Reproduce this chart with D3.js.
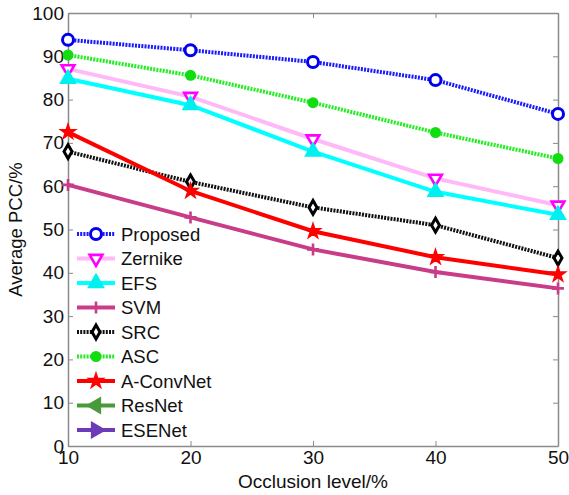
<!DOCTYPE html>
<html>
<head>
<meta charset="utf-8">
<script src="https://cdn.jsdelivr.net/npm/d3@7"></script>
<style>
  body { margin: 0; background: #fff; }
  text { font-family: Arial, "Liberation Sans", sans-serif; }
</style>
</head>
<body>
<div id="chart"></div>
<script>
// data
const levels = [10, 20, 30, 40, 50];
const proposed = [93.8, 91.4, 88.7, 84.5, 76.7];
const zernike = [87.1, 80.7, 70.9, 61.8, 55.6];
const efs = [84.8, 78.7, 68.0, 58.7, 53.4];
const svm = [60.3, 52.8, 45.4, 40.2, 36.4];
const src = [68.0, 61.0, 55.1, 51.0, 43.4];
const asc = [90.3, 85.6, 79.3, 72.4, 66.4];
const aconv = [72.5, 58.9, 49.6, 43.6, 39.6];
const resnet = [];
const esenet = [];
const yTicks = [0, 10, 20, 30, 40, 50, 60, 70, 80, 90, 100];

const series = [
  { name: "Proposed", values: proposed, color: "#1a1aff", dash: "2,1.2", marker: "circle", mcolor: "#0000ee", fill: false },
  { name: "Zernike", values: zernike, color: "#ffb8f8", dash: null, marker: "tridown", mcolor: "#ff00ff", fill: false },
  { name: "EFS", values: efs, color: "#00ffff", dash: null, marker: "triup", mcolor: "#00f0f0", fill: true },
  { name: "SVM", values: svm, color: "#c83c88", dash: null, marker: "plus", mcolor: "#c83c88", fill: false },
  { name: "SRC", values: src, color: "#111", dash: "2,1.2", marker: "diamond", mcolor: "#000", fill: false },
  { name: "ASC", values: asc, color: "#22ee22", dash: "2,1.2", marker: "dot", mcolor: "#11dd11", fill: true },
  { name: "A-ConvNet", values: aconv, color: "#ff0000", dash: null, marker: "star", mcolor: "#ff0000", fill: true },
  { name: "ResNet", values: resnet, color: "#4a9a3c", dash: null, marker: "trileft", mcolor: "#4a9a3c", fill: true },
  { name: "ESENet", values: esenet, color: "#6a3cb8", dash: null, marker: "triright", mcolor: "#6a3cb8", fill: true }
];

const margin = { top: 13, right: 11, bottom: 49, left: 68 };
const width = 569 - margin.left - margin.right;
const height = 495 - margin.top - margin.bottom;

const svg = d3.select("#chart")
  .append("svg")
  .attr("width", 569)
  .attr("height", 495)
  .append("g")
  .attr("transform", "translate(" + margin.left + "," + margin.top + ")");

const x = d3.scaleLinear().domain([10, 50]).range([0, width]);
const y = d3.scaleLinear().domain([0, 100]).range([height, 0]);

// axes with inward ticks on all four sides
const axisColor = "#8a8a8a";
function styleAxis(g, labels) {
  g.select(".domain").attr("stroke", axisColor).attr("stroke-width", 1.5);
  g.selectAll(".tick line").attr("stroke", axisColor);
  g.selectAll(".tick text")
    .attr("fill", "#111")
    .style("font-size", "19px")
    .style("display", labels ? null : "none");
}

svg.append("g")
  .attr("transform", "translate(0," + height + ")")
  .call(d3.axisBottom(x).tickValues(levels).tickSizeInner(-5).tickSizeOuter(0).tickPadding(5))
  .call(g => styleAxis(g, true));

svg.append("g")
  .call(d3.axisTop(x).tickValues(levels).tickSizeInner(-5).tickSizeOuter(0))
  .call(g => styleAxis(g, false));

svg.append("g")
  .call(d3.axisLeft(y).tickValues(yTicks).tickSizeInner(-5).tickSizeOuter(0).tickPadding(4))
  .call(g => styleAxis(g, true));

svg.append("g")
  .attr("transform", "translate(" + width + ",0)")
  .call(d3.axisRight(y).tickValues(yTicks).tickSizeInner(-5).tickSizeOuter(0))
  .call(g => styleAxis(g, false));

// axis titles
svg.append("text")
  .attr("x", width / 2)
  .attr("y", height + 42)
  .attr("text-anchor", "middle")
  .attr("fill", "#111")
  .style("font-size", "19px")
  .text("Occlusion level/%");

svg.append("text")
  .attr("transform", "rotate(-90)")
  .attr("x", -height / 2)
  .attr("y", -46)
  .attr("text-anchor", "middle")
  .attr("fill", "#111")
  .style("font-size", "18.5px")
  .text("Average PCC/%");

// marker drawing
function drawMarker(g, s, cx, cy) {
  const m = g.append("g").attr("transform", "translate(" + cx + "," + cy + ")");
  const sw = 2.6;
  if (s.marker === "circle") {
    m.append("circle").attr("r", 5.5).attr("fill", "#fff").attr("stroke", s.mcolor).attr("stroke-width", 3);
  } else if (s.marker === "dot") {
    m.append("circle").attr("r", 5.5).attr("fill", s.mcolor);
  } else if (s.marker === "tridown") {
    m.append("path").attr("d", d3.symbol(d3.symbolTriangle, 70)()).attr("transform", "rotate(180)")
      .attr("fill", "#fff").attr("stroke", s.mcolor).attr("stroke-width", sw);
  } else if (s.marker === "triup") {
    m.append("path").attr("d", d3.symbol(d3.symbolTriangle, 100)())
      .attr("fill", s.mcolor).attr("stroke", s.mcolor).attr("stroke-width", 1.5);
  } else if (s.marker === "trileft" || s.marker === "triright") {
    m.append("path").attr("d", d3.symbol(d3.symbolTriangle, 100)())
      .attr("transform", s.marker === "trileft" ? "rotate(-90)" : "rotate(90)")
      .attr("fill", s.mcolor).attr("stroke", s.mcolor).attr("stroke-width", 1.5);
  } else if (s.marker === "diamond") {
    m.append("path").attr("d", d3.symbol(d3.symbolDiamond, 55)())
      .attr("fill", "#fff").attr("stroke", s.mcolor).attr("stroke-width", 3);
  } else if (s.marker === "star") {
    m.append("path").attr("d", d3.symbol(d3.symbolStar, 55)())
      .attr("fill", s.mcolor).attr("stroke", s.mcolor).attr("stroke-width", 2);
  } else if (s.marker === "plus") {
    m.append("path").attr("d", "M-6,0H6M0,-6V6").attr("stroke", s.mcolor).attr("stroke-width", sw);
  }
}

// lines
const line = d3.line()
  .x((d, i) => x(levels[i]))
  .y(d => y(d));

series.forEach(s => {
  if (!s.values.length) return;
  const g = svg.append("g");
  g.append("path")
    .datum(s.values)
    .attr("fill", "none")
    .attr("stroke", s.color)
    .attr("stroke-width", 4)
    .attr("stroke-dasharray", s.dash)
    .attr("d", line);
  s.values.forEach((v, i) => drawMarker(g, s, x(levels[i]), y(v)));
});

// legend
const legend = svg.append("g").attr("transform", "translate(9,221)");
series.forEach((s, i) => {
  const g = legend.append("g").attr("transform", "translate(0," + i * 24.5 + ")");
  g.append("line")
    .attr("x1", 0).attr("x2", 38)
    .attr("stroke", s.color)
    .attr("stroke-width", 4)
    .attr("stroke-dasharray", s.dash);
  drawMarker(g, s, 19, 0);
  g.append("text")
    .attr("x", 44)
    .attr("y", 6.5)
    .attr("fill", "#111")
    .style("font-size", "18.5px")
    .text(s.name);
});
</script>
</body>
</html>
